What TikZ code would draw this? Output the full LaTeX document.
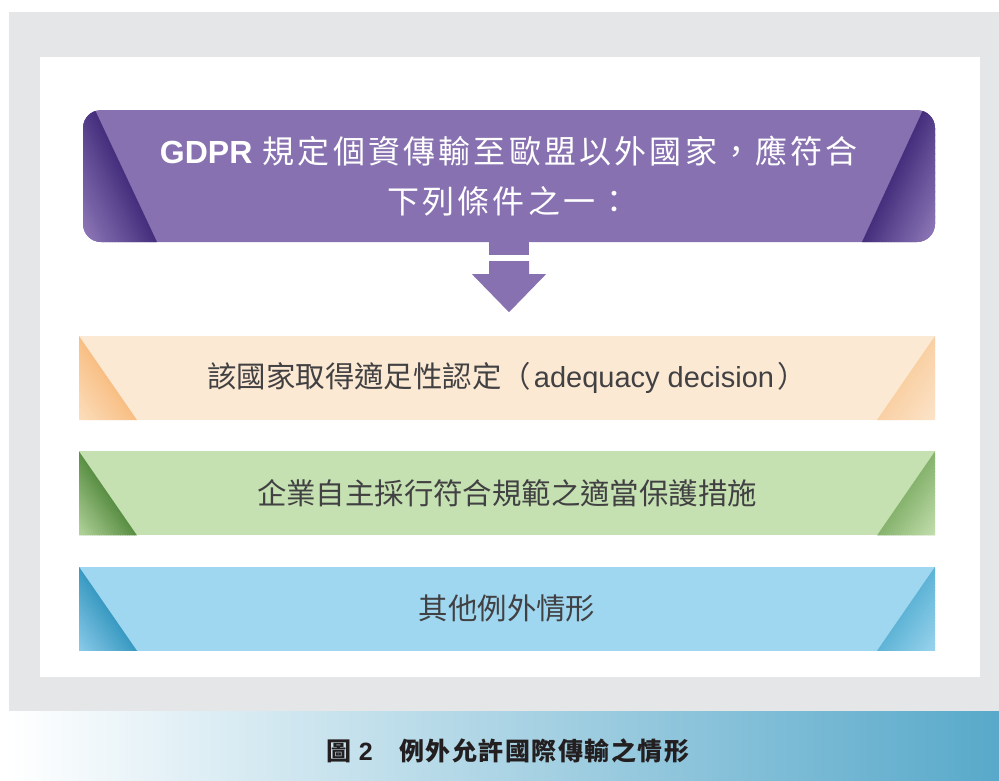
\documentclass[tikz,border=0pt]{standalone}
\usepackage{fontspec}
\setmainfont{Noto Sans CJK TC}
\newfontfamily\arial{Liberation Sans}
\usetikzlibrary{positioning,calc}
\definecolor{cPanel}{HTML}{E5E6E8}
\definecolor{cRule}{HTML}{8771B0}
\definecolor{cRuleDk}{HTML}{46307E}
\definecolor{cRuleLt}{HTML}{937DBC}
\definecolor{cOrange}{HTML}{FCE9D3}
\definecolor{cOrangeDk}{HTML}{F8BF85}
\definecolor{cOrangeLt}{HTML}{FCDFBE}
\definecolor{cOrangeRDk}{HTML}{F9D0A4}
\definecolor{cOrangeRLt}{HTML}{FCE4CA}
\definecolor{cGreen}{HTML}{C5E0B1}
\definecolor{cGreenDk}{HTML}{5B8F45}
\definecolor{cGreenLt}{HTML}{B5D69E}
\definecolor{cGreenRDk}{HTML}{86B36D}
\definecolor{cGreenRLt}{HTML}{C4DFAF}
\definecolor{cBlue}{HTML}{A0D7F0}
\definecolor{cBlueDk}{HTML}{3A9AC2}
\definecolor{cBlueLt}{HTML}{8DCCEA}
\definecolor{cBlueRDk}{HTML}{5FB4D6}
\definecolor{cBlueRLt}{HTML}{9AD4EE}
\definecolor{cText}{HTML}{414042}
\definecolor{cCapText}{HTML}{231F20}
\definecolor{cBand}{HTML}{58A9CA}

% shaded wedge in a box corner, built from thin strips parallel to its edge
% #1 west/east, #2 apex offset, #3 foot offset, #4 dark, #5 light
\newcommand\sidefade[5]{%
  \foreach \k in {0,...,24}{
    \pgfmathsetmacro\sa{(#3)*\k/25}
    \pgfmathsetmacro\sb{(#3)*(\k+1.2)/25}
    \pgfmathtruncatemacro\mix{100-4*\k}
    \fill[#4!\mix!#5,sharp corners]
      ($(path picture bounding box.north #1)+(#2-\sa,0)$)
      -- ($(path picture bounding box.south #1)+(#3-\sa,0)$)
      -- ($(path picture bounding box.south #1)+(#3-\sb,0)$)
      -- ($(path picture bounding box.north #1)+(#2-\sb,0)$) -- cycle;
  }}

\begin{document}
\begin{tikzpicture}[
  x=1pt,y=-1pt,
  optbox/.style n args={5}{fill=#1,minimum width=856pt,minimum height=84pt,inner sep=0pt,
    text=cText,font=\fontsize{29.4}{36}\selectfont,
    path picture={\sidefade{west}{0}{58}{#2}{#3}\sidefade{east}{0}{-58}{#4}{#5}}},
  rulebox/.style={fill=cRule,rounded corners=18pt,minimum width=852pt,minimum height=132pt,
    inner sep=0pt,text=white,align=center,
    font=\fontsize{32}{50}\selectfont\addfontfeature{LetterSpace=10},
    path picture={\sidefade{west}{12}{74}{cRuleDk}{cRuleLt}\sidefade{east}{-12}{-73}{cRuleDk}{cRuleLt}}}
]
\useasboundingbox (0,0) rectangle (999,780);
% panels
\fill[white] (0,0) rectangle (999,780);
\fill[cPanel] (9,12) rectangle (999,711);
\fill[white] (40,57) rectangle (980,677);
\shade[left color=white,right color=cBand] (9,711) rectangle (999,780);

% rule box and arrow
\node[rulebox] (rule) at (509,176)
  {{\arial\bfseries GDPR} 規定個資傳輸至歐盟以外國家，應符合\\下列條件之一：};
\fill[cRule] ($(rule.south)+(-20,-1)$) rectangle ($(rule.south)+(20,13)$);
\fill[cRule] ($(rule.south)+(-20,19)$) -- ($(rule.south)+(20,19)$)
  -- ($(rule.south)+(20,32)$) -- ($(rule.south)+(37,32)$)
  -- ($(rule.south)+(0,70)$) -- ($(rule.south)+(-37,32)$)
  -- ($(rule.south)+(-20,32)$) -- cycle;

% options
\node[optbox={cOrange}{cOrangeDk}{cOrangeLt}{cOrangeRDk}{cOrangeRLt}] (adeq) at (507,378)
  {該國家取得適足性認定（\hspace{3pt}{\arial\fontsize{29}{36}\selectfont adequacy decision}\hspace{3pt}）};
\node[optbox={cGreen}{cGreenDk}{cGreenLt}{cGreenRDk}{cGreenRLt},below=31pt of adeq] (safeg)
  {企業自主採行符合規範之適當保護措施};
\node[optbox={cBlue}{cBlueDk}{cBlueLt}{cBlueRDk}{cBlueRLt},below=31pt of safeg] (other)
  {其他例外情形};

% caption
\node[text=cCapText,font=\fontsize{25}{28}\selectfont\bfseries\addfontfeature{LetterSpace=6}] (cap) at (508,751)
  {圖 {\arial 2}　例外允許國際傳輸之情形};
\end{tikzpicture}
\end{document}
